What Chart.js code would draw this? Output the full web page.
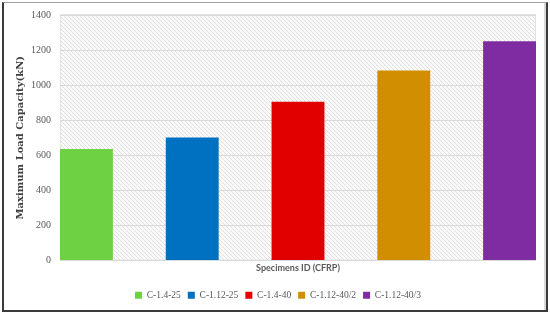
<!DOCTYPE html>
<html>
<head>
<meta charset="utf-8">
<script src="https://cdn.jsdelivr.net/npm/chart.js@4.4.1/dist/chart.umd.min.js"></script>
<style>
  html, body { margin: 0; padding: 0; background: #fff; }
  #wrap { position: relative; width: 550px; height: 315px; }
  #frame {
    position: absolute; left: 2px; top: 2px; width: 542px; height: 307px;
    border: 2px solid #3a3a3a; border-top: 1px solid #a0a0a0;
    box-shadow: inset -2px 0 0 #d8d8d8;
    pointer-events: none;
  }
  canvas { position: absolute; left: 0; top: 0; }
</style>
</head>
<body>
<div id="wrap">
  <canvas id="chart" width="550" height="315"></canvas>
  <div id="frame"></div>
</div>
<script>
// specimen ids and max loads (kN)
const specimens = ['C-1.4-25', 'C-1.12-25', 'C-1.4-40', 'C-1.12-40/2', 'C-1.12-40/3'];
const maxLoad = [636, 702, 905, 1083, 1250];
const barColors = ['#6ed043', '#0070c0', '#e00000', '#d08e00', '#7f2ca3'];
const yTicks = [0, 200, 400, 600, 800, 1000, 1200, 1400];

// light diagonal hatch behind the plot
const makeHatch = () => {
    const c = document.createElement('canvas');
    c.width = 4; c.height = 4;
    const g = c.getContext('2d');
    g.fillStyle = '#fafafa';
    g.fillRect(0, 0, 4, 4);
    g.strokeStyle = '#e0e0e0';
    g.lineWidth = 1;
    g.beginPath();
    g.moveTo(-1, -1); g.lineTo(5, 5);
    g.moveTo(-1, 3); g.lineTo(1, 5);
    g.moveTo(3, -1); g.lineTo(5, 1);
    g.stroke();
    return g.createPattern(c, 'repeat');
};

const hatchBg = {
    id: 'hatchBg',
    beforeDraw(chart) {
        const { ctx, chartArea: a } = chart;
        ctx.save();
        ctx.fillStyle = makeHatch();
        ctx.fillRect(a.left, a.top, a.right - a.left, a.bottom - a.top);
        ctx.strokeStyle = '#e2e2e2';
        ctx.lineWidth = 1;
        ctx.strokeRect(a.left + 0.5, a.top - 0.5, a.right - a.left - 1, a.bottom - a.top);
        ctx.restore();
    }
};

// every specimen is its own series, placed side by side with an equal gap
const datasets = specimens.map((name, i) => ({
    label: name,
    data: [{ x: i, y: maxLoad[i] }],
    backgroundColor: barColors[i],
    borderWidth: 0,
    grouped: false,
    barPercentage: 0.5,
    categoryPercentage: 1
}));

new Chart(document.getElementById('chart'), {
    type: 'bar',
    data: { datasets },
    plugins: [hatchBg],
    options: {
        responsive: false,
        animation: false,
        layout: { padding: { left: 20, right: 14, top: 14, bottom: 5 } },
        plugins: {
            tooltip: { enabled: false },
            legend: {
                position: 'bottom',
                labels: {
                    boxWidth: 7, boxHeight: 7, padding: 7,
                    color: '#595959',
                    font: { family: 'Liberation Serif', size: 9.5 }
                }
            }
        },
        scales: {
            x: {
                type: 'linear',
                offset: false,
                min: -0.25, max: 4.25,
                afterBuildTicks: s => { s.ticks = specimens.map((_, i) => ({ value: i })); },
                grid: { display: false },
                border: { display: false },
                ticks: { display: false },
                title: {
                    display: true, text: 'Specimens ID (CFRP)', color: '#595959',
                    font: { family: 'Lato', size: 9, weight: 'bold' },
                    padding: { top: 0, bottom: 10 }
                },
                afterFit: s => { s.height = 23; }
            },
            y: {
                min: 0, max: 1400,
                afterBuildTicks: s => { s.ticks = yTicks.map(v => ({ value: v })); },
                grid: { color: '#d9d9d9', drawTicks: false },
                border: { display: false },
                ticks: {
                    padding: 9, color: '#595959',
                    font: { family: 'Liberation Serif', size: 10 },
                    callback: v => String(v)
                },
                title: {
                    display: true, text: 'Maximum Load Capacity(kN)', color: '#404040',
                    font: { family: 'DejaVu Serif', size: 10, weight: 'bold' },
                    padding: { top: -6, bottom: 0 }
                },
                afterFit: s => { s.width = 40; }
            }
        }
    }
});
</script>
</body>
</html>
